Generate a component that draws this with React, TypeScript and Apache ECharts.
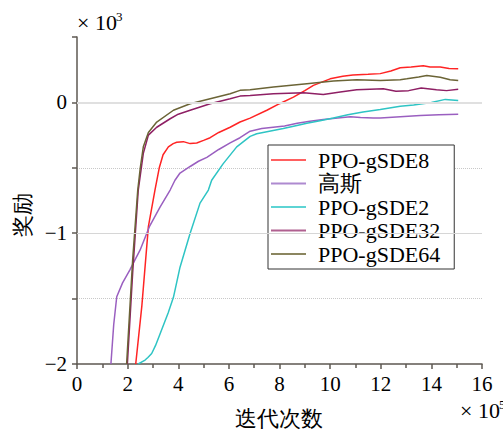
import React, { useEffect, useRef } from 'react';
import * as echarts from 'echarts';

const seriesNames = ['PPO-gSDE8', '高斯', 'PPO-gSDE2', 'PPO-gSDE32', 'PPO-gSDE64'];

const gsde8X = [2.32, 2.56, 2.82, 3.08, 3.25, 3.4, 3.61, 3.8, 3.94, 4.2, 4.47, 4.73, 5.0, 5.26, 5.6, 6.05, 6.44, 6.84, 7.5, 8.0, 8.55, 9.0, 9.34, 10.0, 10.5, 10.9, 11.5, 11.98, 12.4, 12.77, 13.2, 13.68, 13.95, 14.35, 14.7, 15.06];
const gsde8Y = [-2, -1.56, -0.95, -0.67, -0.5, -0.4, -0.34, -0.315, -0.305, -0.3, -0.315, -0.31, -0.29, -0.27, -0.23, -0.19, -0.15, -0.12, -0.06, -0.01, 0.04, 0.09, 0.13, 0.18, 0.2, 0.21, 0.215, 0.22, 0.24, 0.265, 0.27, 0.28, 0.27, 0.27, 0.26, 0.257];

const gaussX = [1.34, 1.45, 1.57, 1.8, 2.09, 2.3, 2.49, 2.86, 3.28, 3.68, 3.87, 4.07, 4.47, 4.8, 5.13, 5.6, 6.05, 6.44, 6.84, 7.3, 7.75, 8.2, 8.7, 9.2, 9.73, 10.3, 10.8, 11.2, 11.7, 11.98, 12.77, 13.56, 14.3, 15.06];
const gaussY = [-2, -1.7, -1.486, -1.38, -1.28, -1.2, -1.13, -0.95, -0.8, -0.67, -0.595, -0.54, -0.49, -0.45, -0.42, -0.36, -0.31, -0.27, -0.22, -0.2, -0.19, -0.18, -0.16, -0.145, -0.13, -0.12, -0.11, -0.115, -0.12, -0.12, -0.11, -0.1, -0.095, -0.09];

const gsde2X = [2.42, 2.6, 2.69, 2.8, 2.95, 3.1, 3.28, 3.6, 3.81, 4.07, 4.47, 4.86, 5.19, 5.32, 5.77, 6.31, 6.84, 7.1, 7.6, 8.15, 8.6, 9.08, 9.6, 10.13, 10.7, 11.3, 11.98, 12.77, 13.3, 14.0, 14.55, 15.06];
const gsde2Y = [-2, -1.98, -1.97, -1.95, -1.92, -1.86, -1.77, -1.61, -1.49, -1.26, -1.0, -0.77, -0.67, -0.595, -0.47, -0.34, -0.26, -0.24, -0.22, -0.2, -0.18, -0.16, -0.14, -0.12, -0.095, -0.074, -0.055, -0.03, -0.02, 0.0, 0.023, 0.015];

const gsde32X = [1.99, 2.2, 2.42, 2.62, 2.82, 3.15, 3.68, 4.0, 4.47, 5.26, 6.05, 6.44, 6.84, 7.76, 8.95, 9.73, 10.4, 11.05, 12.1, 12.6, 13.1, 13.6, 14.2, 14.6, 15.06];
const gsde32Y = [-2, -1.3, -0.67, -0.39, -0.25, -0.19, -0.125, -0.09, -0.06, -0.01, 0.028, 0.048, 0.053, 0.066, 0.074, 0.061, 0.08, 0.097, 0.104, 0.086, 0.09, 0.11, 0.097, 0.09, 0.1];

const gsde64X = [1.96, 2.2, 2.4, 2.5, 2.62, 2.82, 3.15, 3.81, 4.47, 5.26, 6.05, 6.44, 6.84, 7.76, 9.08, 10.13, 11.05, 11.98, 12.77, 13.03, 13.5, 13.82, 14.35, 14.74, 15.06];
const gsde64Y = [-2, -1.2, -0.67, -0.5, -0.34, -0.23, -0.15, -0.06, -0.01, 0.028, 0.066, 0.092, 0.097, 0.117, 0.143, 0.163, 0.173, 0.168, 0.173, 0.18, 0.195, 0.206, 0.193, 0.173, 0.168];

const xTicks = { min: 0, max: 16, interval: 2 };
const yTicks = { min: -2, max: 0.5, interval: 0.5 };

const colors = ['#ff2424', '#9a5fc0', '#2ec4c4', '#8e1f64', '#6b6436'];
const legendColors = ['#ff6060', '#ae8ad0', '#5ed4d4', '#b06090', '#8b8660'];
const FONT = 'Liberation Serif';

const pairs = (xs: number[], ys: number[]) => xs.map((x, i) => [x, ys[i]]);

export default function App() {
  const ref = useRef<HTMLDivElement>(null);
  useEffect(() => {
    const chart = echarts.init(ref.current!, null, { renderer: 'svg' });
    const allData = [
      pairs(gsde8X, gsde8Y),
      pairs(gaussX, gaussY),
      pairs(gsde2X, gsde2Y),
      pairs(gsde32X, gsde32Y),
      pairs(gsde64X, gsde64Y),
    ];
    const axisLine = { show: true, onZero: false, lineStyle: { color: '#5e5852', width: 1.5 } };
    const option: any = {
      animation: false,
      backgroundColor: '#fff',
      grid: { left: 77, top: 37, right: 21, bottom: 69 },
      xAxis: {
        type: 'value',
        min: xTicks.min,
        max: xTicks.max,
        interval: xTicks.interval,
        axisLine,
        axisTick: { show: true, inside: false, length: 5, lineStyle: { color: '#5e5852', width: 1.5 } },
        minorTick: { show: true, splitNumber: 2, length: 4, lineStyle: { color: '#5e5852', width: 1.5 } },
        axisLabel: { fontFamily: FONT, fontSize: 21, color: '#000', margin: 9 },
        splitLine: { show: false },
      },
      yAxis: {
        type: 'value',
        min: yTicks.min,
        max: yTicks.max,
        interval: yTicks.interval,
        axisLine,
        axisTick: { show: true, inside: false, length: 5, lineStyle: { color: '#5e5852', width: 1.5 } },
        axisLabel: {
          fontFamily: FONT,
          fontSize: 21,
          color: '#000',
          margin: 10,
          formatter: (v: number) => {
            if (Math.abs(v - Math.round(v)) > 1e-9 || v > 0.01) return '';
            return v < 0 ? '\u2212' + Math.abs(v) : String(v);
          },
        },
        splitLine: {
          show: true,
          showMinLine: false,
          showMaxLine: false,
          lineStyle: { color: '#c8c8c8', type: 'dotted', width: 1 },
        },
      },
      legend: {
        data: seriesNames.map((name, i) => ({ name, itemStyle: { color: legendColors[i] } })),
        orient: 'vertical',
        left: 268,
        top: 145,
        icon: 'rect',
        itemWidth: 35,
        itemHeight: 2,
        itemGap: 1.5,
        padding: [4, 14, 4, 3],
        borderColor: '#333',
        borderWidth: 1,
        borderRadius: 0,
        backgroundColor: '#fff',
        textStyle: { fontFamily: FONT, fontSize: 22, color: '#000', lineHeight: 22, padding: [0, 0, 0, 7] },
      },
      graphic: [
        { type: 'text', x: 77, y: 22, style: { text: '× 10', fontFamily: FONT, fontSize: 22, fill: '#000', textVerticalAlign: 'middle' } },
        { type: 'text', x: 116, y: 16, style: { text: '3', fontFamily: FONT, fontSize: 13, fill: '#000', textVerticalAlign: 'middle' } },
        { type: 'text', x: 460, y: 410, style: { text: '× 10', fontFamily: FONT, fontSize: 22, fill: '#000', textVerticalAlign: 'middle' } },
        { type: 'text', x: 499, y: 404, style: { text: '5', fontFamily: FONT, fontSize: 13, fill: '#000', textVerticalAlign: 'middle' } },
        { type: 'text', x: 279, y: 418, style: { text: '迭代次数', fontFamily: FONT, fontSize: 22, fill: '#000', textAlign: 'center', textVerticalAlign: 'middle' } },
        { type: 'text', x: 22, y: 215, rotation: Math.PI / 2, style: { text: '奖励', fontFamily: FONT, fontSize: 22, fill: '#000', textAlign: 'center', textVerticalAlign: 'middle' } },
      ],
      series: [
        {
          name: 'grid-solid',
          type: 'line',
          data: [],
          z: 1,
          markLine: {
            silent: true,
            symbol: 'none',
            label: { show: false },
            emphasis: { disabled: true },
            data: [
              { yAxis: 0, lineStyle: { color: '#e0e0e0', width: 2, type: 'solid' } },
              { yAxis: -1, lineStyle: { color: '#d6d6d6', width: 1, type: 'solid' } },
            ],
          },
        },
        ...seriesNames.map((name, i) => ({
          name,
          type: 'line',
          data: allData[i],
          showSymbol: false,
          symbol: 'none',
          z: 3,
          lineStyle: { color: colors[i], width: 1.5 },
          itemStyle: { color: colors[i] },
        })),
      ],
    };
    chart.setOption(option);
    return () => chart.dispose();
  }, []);
  return <div ref={ref} style={{ width: 503, height: 433, position: 'absolute', left: 0, top: 0 }} />;
}
